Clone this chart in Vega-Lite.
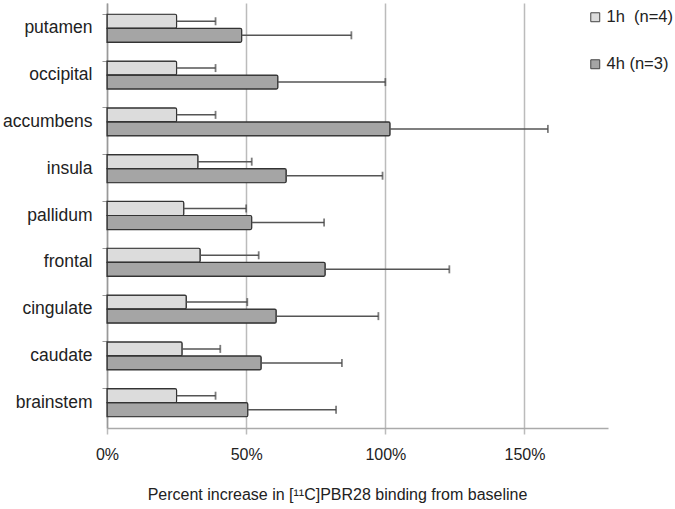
{
  "$schema": "https://vega.github.io/schema/vega-lite/v6.json",
  "width": 501,
  "height": 425,
  "autosize": {"type": "none"},
  "padding": {"left": 107, "top": 3, "right": 67, "bottom": 81},
  "background": "white",
  "config": {
    "font": "Liberation Sans",
    "view": {"stroke": null}
  },
  "data": {
    "values": [
      {"region": "putamen", "series": "1h\u00a0 (n=4)", "value": 0.25, "err": 0.39},
      {"region": "putamen", "series": "4h (n=3)", "value": 0.484, "err": 0.878},
      {"region": "occipital", "series": "1h\u00a0 (n=4)", "value": 0.25, "err": 0.39},
      {"region": "occipital", "series": "4h (n=3)", "value": 0.614, "err": 1.0},
      {"region": "accumbens", "series": "1h\u00a0 (n=4)", "value": 0.25, "err": 0.39},
      {"region": "accumbens", "series": "4h (n=3)", "value": 1.017, "err": 1.584},
      {"region": "insula", "series": "1h\u00a0 (n=4)", "value": 0.327, "err": 0.52},
      {"region": "insula", "series": "4h (n=3)", "value": 0.644, "err": 0.99},
      {"region": "pallidum", "series": "1h\u00a0 (n=4)", "value": 0.276, "err": 0.50},
      {"region": "pallidum", "series": "4h (n=3)", "value": 0.52, "err": 0.78},
      {"region": "frontal", "series": "1h\u00a0 (n=4)", "value": 0.335, "err": 0.545},
      {"region": "frontal", "series": "4h (n=3)", "value": 0.784, "err": 1.23},
      {"region": "cingulate", "series": "1h\u00a0 (n=4)", "value": 0.285, "err": 0.504},
      {"region": "cingulate", "series": "4h (n=3)", "value": 0.608, "err": 0.975},
      {"region": "caudate", "series": "1h\u00a0 (n=4)", "value": 0.27, "err": 0.407},
      {"region": "caudate", "series": "4h (n=3)", "value": 0.554, "err": 0.844},
      {"region": "brainstem", "series": "1h\u00a0 (n=4)", "value": 0.25, "err": 0.39},
      {"region": "brainstem", "series": "4h (n=3)", "value": 0.506, "err": 0.823}
    ]
  },
  "encoding": {
    "y": {
      "field": "region",
      "type": "nominal",
      "sort": ["putamen", "occipital", "accumbens", "insula", "pallidum", "frontal", "cingulate", "caudate", "brainstem"],
      "scale": {"paddingInner": 0.4, "paddingOuter": 0.24},
      "axis": {
        "title": null,
        "bandPosition": 0,
        "domainColor": "#999999",
        "domainWidth": 1.5,
        "tickColor": "#999999",
        "tickSize": 5,
        "labelFontSize": 17.5,
        "labelColor": "#222222",
        "labelPadding": 10
      }
    },
    "yOffset": {
      "field": "series",
      "type": "nominal",
      "scale": {"paddingInner": 0, "paddingOuter": 0}
    }
  },
  "layer": [
    {
      "mark": {"type": "bar", "stroke": "#333333", "strokeWidth": 1.2, "cornerRadiusEnd": 1.5},
      "encoding": {
        "x": {
          "field": "value",
          "type": "quantitative",
          "scale": {"domain": [0, 1.8], "nice": false},
          "axis": {
            "title": "Percent increase in [\u00b9\u00b9C]PBR28 binding from baseline",
            "titleX": 230,
            "titleAnchor": "start",
            "titleAlign": "center",
            "format": ".0%",
            "values": [0, 0.5, 1, 1.5],
            "labelFlush": false,
            "grid": true,
            "gridColor": "#bbbbbb",
            "gridWidth": 1.5,
            "domainColor": "#aaaaaa",
            "domainWidth": 1.5,
            "tickColor": "#bbbbbb",
            "tickSize": 6,
            "tickWidth": 1.5,
            "labelFontSize": 16,
            "labelColor": "#222222",
            "labelPadding": 12,
            "titleFontSize": 16,
            "titleFontWeight": "normal",
            "titleColor": "#222222",
            "titlePadding": 24
          }
        },
        "fill": {
          "field": "series",
          "type": "nominal",
          "scale": {"range": ["#dcdcdc", "#a5a5a5"]},
          "legend": {
            "title": null,
            "orient": "none",
            "legendX": 480,
            "legendY": 6,
            "symbolType": "square",
            "symbolSize": 80,
            "symbolStrokeColor": "#444444",
            "symbolStrokeWidth": 1,
            "labelFontSize": 16.5,
            "labelColor": "#222222",
            "rowPadding": 30,
            "labelOffset": 3
          }
        }
      }
    },
    {
      "mark": {"type": "rule", "color": "#555555", "strokeWidth": 1.5},
      "encoding": {
        "x": {"field": "value", "type": "quantitative"},
        "x2": {"field": "err"}
      }
    },
    {
      "mark": {"type": "tick", "color": "#444444", "thickness": 1.8, "size": 8},
      "encoding": {
        "x": {"field": "err", "type": "quantitative"}
      }
    }
  ]
}
